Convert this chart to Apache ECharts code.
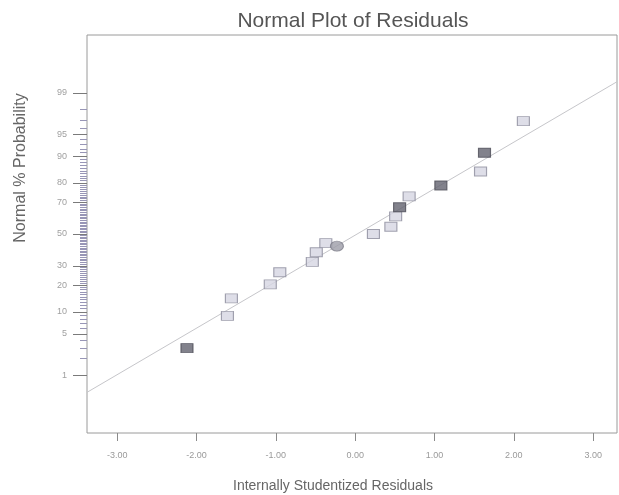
<!DOCTYPE html>
<html>
<head>
<meta charset="utf-8">
<script src="https://cdn.jsdelivr.net/npm/echarts@6/dist/echarts.min.js"></script>
<style>
  html, body { margin: 0; padding: 0; background: #fff; }
  #chart { width: 619px; height: 495px; }
</style>
</head>
<body>
<div id="chart"></div>
<script>
// Internally studentized residuals (x) and their normal scores (y), by marker shade
const lightResidual = [-1.61, -1.56, -1.07, -0.95, -0.54, -0.49, -0.37, 0.23, 0.45, 0.51, 0.68, 1.58, 2.12];
const lightScore    = [-1.35, -1.06, -0.83, -0.63, -0.46, -0.30, -0.15, 0.00, 0.12, 0.29, 0.62, 1.03, 1.86];
const darkResidual  = [-2.12, 0.56, 1.08, 1.63];
const darkScore     = [-1.88, 0.44, 0.80, 1.34];
const circleResidual = [-0.23];
const circleScore    = [-0.20];

// Reference line end points
const fitResidual = [-3.38, 3.30];
const fitScore    = [-2.61, 2.51];

// Axis ticks
const residualTicks = [-3, -2, -1, 0, 1, 2, 3];
const probabilityLabels = [1, 5, 10, 20, 30, 50, 70, 80, 90, 95, 99];

// Inverse of the standard normal CDF (Acklam's approximation)
function probit(p) {
  const a = [-3.969683028665376e+01, 2.209460984245205e+02, -2.759285104469687e+02, 1.383577518672690e+02, -3.066479806614716e+01, 2.506628277459239e+00];
  const b = [-5.447609879822406e+01, 1.615858368580409e+02, -1.556989798598866e+02, 6.680131188771972e+01, -1.328068155288572e+01];
  const c = [-7.784894002430293e-03, -3.223964580411365e-01, -2.400758277161838e+00, -2.549732516148054e+00, 4.374664141464968e+00, 2.938163982698783e+00];
  const d = [7.784695709041462e-03, 3.224671290700398e-01, 2.445134137142996e+00, 3.754408661907416e+00];
  const pl = 0.02425;
  let q, r;
  if (p < pl) {
    q = Math.sqrt(-2 * Math.log(p));
    return (((((c[0]*q + c[1])*q + c[2])*q + c[3])*q + c[4])*q + c[5]) / ((((d[0]*q + d[1])*q + d[2])*q + d[3])*q + 1);
  }
  if (p > 1 - pl) {
    q = Math.sqrt(-2 * Math.log(1 - p));
    return -(((((c[0]*q + c[1])*q + c[2])*q + c[3])*q + c[4])*q + c[5]) / ((((d[0]*q + d[1])*q + d[2])*q + d[3])*q + 1);
  }
  q = p - 0.5; r = q * q;
  return (((((a[0]*r + a[1])*r + a[2])*r + a[3])*r + a[4])*r + a[5])*q / (((((b[0]*r + b[1])*r + b[2])*r + b[3])*r + b[4])*r + 1);
}

const majorZ = probabilityLabels.map(p => probit(p / 100));
const minorZ = [];
for (let p = 2; p <= 98; p++) {
  if (probabilityLabels.indexOf(p) < 0) minorZ.push(probit(p / 100));
}
function probabilityText(z) {
  for (let i = 0; i < majorZ.length; i++) {
    if (Math.abs(majorZ[i] - z) < 1e-6) return String(probabilityLabels[i]);
  }
  return '';
}

const zip = (xs, ys) => xs.map((x, i) => [x, ys[i]]);
const FONT = '"Liberation Sans", Arial, sans-serif';

const chart = echarts.init(document.getElementById('chart'));
chart.setOption({
  animation: false,
  backgroundColor: '#fff',
  grid: {
    left: 87, right: 2, top: 35, bottom: 62,
    show: true, borderColor: '#9a9a9a', borderWidth: 1, backgroundColor: 'transparent'
  },
  xAxis: {
    type: 'value',
    min: -3.38, max: 3.30,
    axisLine: { show: false, onZero: false },
    splitLine: { show: false },
    axisTick: { show: true, length: 8, lineStyle: { color: '#8a8a8a' }, customValues: residualTicks },
    axisLabel: {
      customValues: residualTicks,
      formatter: v => v.toFixed(2),
      fontSize: 9, color: '#9a9a9a', margin: 18, fontFamily: FONT
    }
  },
  yAxis: [
    {
      type: 'value',
      min: -3.28, max: 3.28,
      axisLine: { show: false, onZero: false },
      splitLine: { show: false },
      axisTick: { show: true, length: 14, lineStyle: { color: '#7a7a7a' }, customValues: majorZ },
      axisLabel: {
        customValues: majorZ,
        formatter: probabilityText,
        fontSize: 9, color: '#a0a0a0', margin: 20, fontFamily: FONT
      }
    },
    {
      type: 'value',
      position: 'left',
      min: -3.28, max: 3.28,
      axisLine: { show: false, onZero: false },
      splitLine: { show: false },
      axisTick: { show: true, length: 7, lineStyle: { color: '#9896b6' }, customValues: minorZ },
      axisLabel: { show: false }
    }
  ],
  series: [
    {
      type: 'line',
      data: zip(fitResidual, fitScore),
      symbol: 'none',
      lineStyle: { color: '#c6c6ca', width: 1 },
      silent: true,
      z: 1
    },
    {
      type: 'scatter',
      data: zip(lightResidual, lightScore),
      symbol: 'rect',
      symbolSize: [12, 9],
      itemStyle: { color: '#d6d6e2', borderColor: '#8c8c9c', borderWidth: 1 },
      z: 3
    },
    {
      type: 'scatter',
      data: zip(darkResidual, darkScore),
      symbol: 'rect',
      symbolSize: [12, 9],
      itemStyle: { color: '#63636f', borderColor: '#4c4c56', borderWidth: 1 },
      z: 3
    },
    {
      type: 'scatter',
      data: zip(circleResidual, circleScore),
      symbol: 'circle',
      symbolSize: [13, 10],
      itemStyle: { color: '#9c9ca8', borderColor: '#7e7e8a', borderWidth: 1 },
      z: 3
    }
  ],
  graphic: [
    {
      type: 'text', x: 353, y: 21,
      style: { text: 'Normal Plot of Residuals', font: '21px ' + FONT, fill: '#555',
               align: 'center', verticalAlign: 'middle', textAlign: 'center', textVerticalAlign: 'middle' }
    },
    {
      type: 'text', x: 333, y: 486,
      style: { text: 'Internally Studentized Residuals', font: '14px ' + FONT, fill: '#666',
               align: 'center', verticalAlign: 'middle', textAlign: 'center', textVerticalAlign: 'middle' }
    },
    {
      type: 'text', x: 21, y: 168, rotation: Math.PI / 2,
      style: { text: 'Normal % Probability', font: '16px ' + FONT, fill: '#666',
               align: 'center', verticalAlign: 'middle', textAlign: 'center', textVerticalAlign: 'middle' }
    }
  ]
});
</script>
</body>
</html>
